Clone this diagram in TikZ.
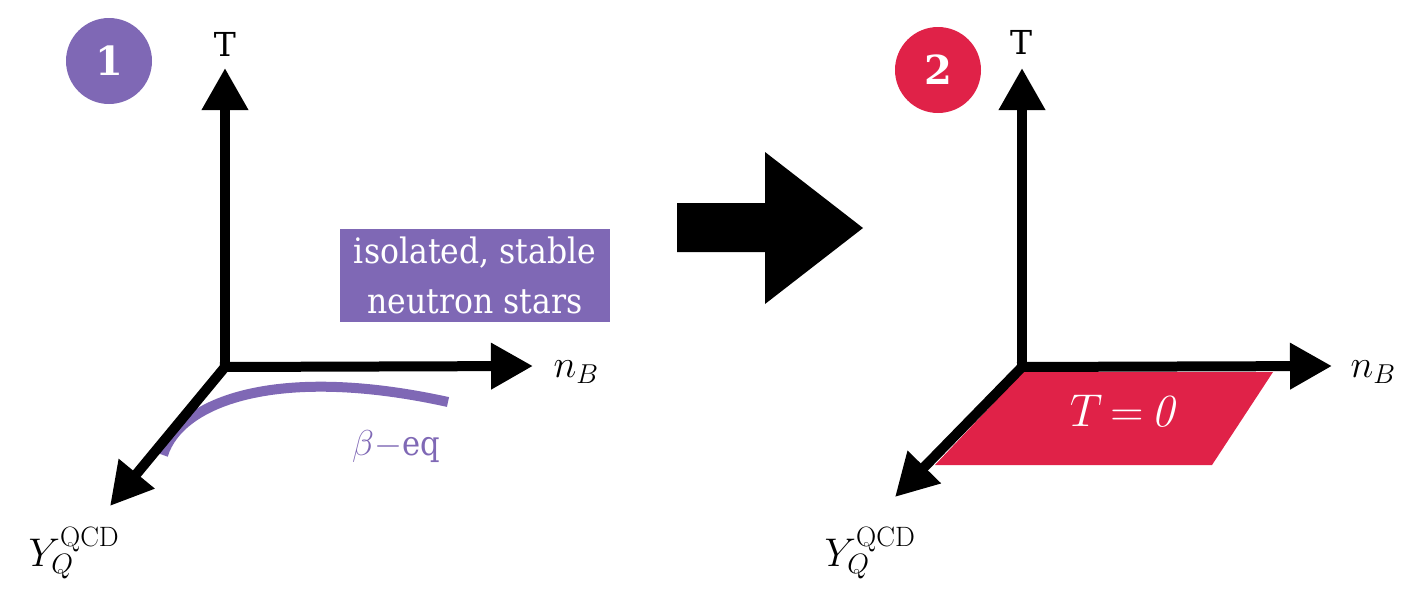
\RequirePackage{fix-cm}
\documentclass[tikz,border=0pt]{standalone}
\usepackage{fontspec}
\newfontfamily\dvs{DejaVu Serif}
\newfontfamily\dvsn{DejaVu Serif}[FakeStretch=0.9]
\usetikzlibrary{arrows.meta}
\definecolor{npurple}{HTML}{7F68B5}
\definecolor{nred}{HTML}{E02248}
\begin{document}
\begin{tikzpicture}[x=1pt,y=-1pt,
  axis/.style={line width=10pt,-{Triangle[width=44pt,length=42pt]}},
  tlabel/.style={font=\dvs\fontsize{33}{33}\selectfont},
  nlabel/.style={font=\fontsize{39}{39}\selectfont},
  ylabel/.style={font=\fontsize{40}{40}\selectfont},
  badge/.style={circle,minimum size=86pt,inner sep=0pt,text=white,font=\dvs\fontsize{40}{40}\selectfont\bfseries},
  infobox/.style={fill=npurple,text=white,align=center,minimum width=270pt,minimum height=93pt,inner sep=0pt,font=\dvsn\fontsize{35}{50}\selectfont}]
\useasboundingbox (0,0) rectangle (1408,606);
% ---------- panel 1 ----------
\coordinate (o1) at (225,367);
\coordinate (o1t) at (225,372);
\coordinate (o1n) at (220,367);
\coordinate (t1) at (225,68);
\coordinate (n1) at (533,366);
\coordinate (y1) at (110,506);
\coordinate (cs) at (163,455);
\coordinate (ce) at (448,402);
\draw[npurple,line width=10pt] (cs) .. controls (180,400) and (280,365) .. (ce);
\draw[axis] (o1t) -- (t1);
\draw[axis] (o1n) -- (n1);
\draw[axis] (o1) -- (y1);
\node[badge,fill=npurple] (c1) at (109,61) {1};
\node[tlabel] (lt1) at (225,44) {T};
\node[nlabel] (ln1) at (576,372) {$n_B$};
\node[ylabel] (ly1) at (74,553) {$Y_Q^{\mathrm{QCD}}$};
\node[text=npurple,font=\fontsize{36}{36}\selectfont] (beq) at (396,447) {$\beta{-}${\dvsn\fontsize{34}{34}\selectfont eq}};
\node[infobox] (box) at (475,275.5) {isolated, stable\\neutron stars};
% ---------- big arrow ----------
\fill (677,203) -- (765,203) -- (765,152) -- (863,228) -- (765,304) -- (765,252) -- (677,252) -- cycle;
% ---------- panel 2 ----------
\coordinate (o2) at (1022,367);
\coordinate (o2t) at (1022,372);
\coordinate (o2n) at (1017,367);
\coordinate (t2) at (1022,68);
\coordinate (n2) at (1332,366);
\coordinate (y2) at (895,497);
\fill[nred] (1023,372) -- (1273,372) -- (1212,465) -- (935,465) -- cycle;
\node[text=white,font=\fontsize{46}{46}\selectfont] (tz) at (1122,411) {$T\,{=}\,\mathit{0}$};
\draw[axis] (o2t) -- (t2);
\draw[axis] (o2n) -- (n2);
\draw[axis] (o2) -- (y2);
\node[badge,fill=nred] (c2) at (938,70) {2};
\node[tlabel] (lt2) at (1021,42) {T};
\node[nlabel] (ln2) at (1373,372) {$n_B$};
\node[ylabel] (ly2) at (870,553) {$Y_Q^{\mathrm{QCD}}$};
\end{tikzpicture}
\end{document}
